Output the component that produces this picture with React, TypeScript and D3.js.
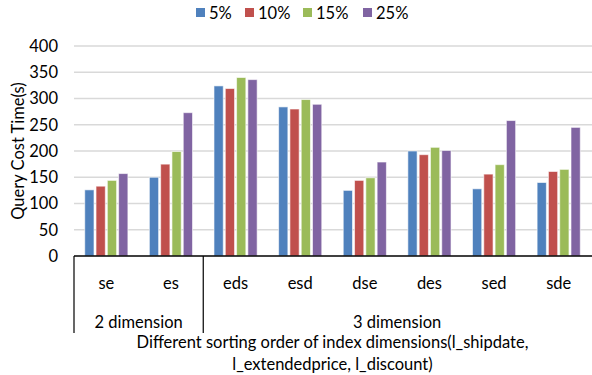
import React from "react";
import * as d3 from "d3";

const categories = ["se", "es", "eds", "esd", "dse", "des", "sed", "sde"];
const groups = [
  { label: "2 dimension", count: 2 },
  { label: "3 dimension", count: 6 },
];
const seriesNames = ["5%", "10%", "15%", "25%"];
const s5 = [126, 150, 324, 284, 125, 200, 128, 140];
const s10 = [133, 175, 319, 280, 144, 193, 156, 161];
const s15 = [144, 199, 340, 298, 149, 207, 174, 165];
const s25 = [157, 273, 336, 289, 179, 201, 258, 245];
const seriesValues = [s5, s10, s15, s25];
const colors = ["#4F81BD", "#C0504D", "#9BBB59", "#8064A2"];
const yTicks = [0, 50, 100, 150, 200, 250, 300, 350, 400];
const yTitle = "Query Cost Time(s)";
const xTitle1 = "Different sorting order of index dimensions(l_shipdate,";
const xTitle2 = "l_extendedprice, l_discount)";

const W = 592;
const H = 375;
const left = 74;
const right = 591;
const top = 46;
const bottom = 256;
const font = "Lato, 'Open Sans', sans-serif";
const fs = 16.5;

export default function App() {
  const x = d3.scaleBand<string>().domain(categories).range([left, right]).paddingInner(0).paddingOuter(0);
  const y = d3.scaleLinear().domain([0, 400]).range([bottom, top]);
  const inner = d3
    .scaleBand<string>()
    .domain(seriesNames)
    .range([0, x.bandwidth()])
    .paddingInner(0.18)
    .paddingOuter(0.95);

  let idx = 0;
  const groupBounds = groups.map((g) => {
    const start = x(categories[idx])!;
    idx += g.count;
    const end = idx < categories.length ? x(categories[idx])! : right;
    return { ...g, start, end };
  });

  const legendX = [196, 245, 303, 363];

  return (
    <svg width={W} height={H} style={{ position: "absolute", left: 0, top: 0, background: "#fff" }} fontFamily={font}>
      {yTicks.slice(1).map((t) => (
        <line key={t} x1={left} x2={W} y1={y(t)} y2={y(t)} stroke="#D9D9D9" strokeWidth={1.3} />
      ))}
      {yTicks.map((t) => (
        <text key={t} x={58} y={y(t)} dy="0.35em" textAnchor="end" fontSize={fs} fill="#000">
          {t}
        </text>
      ))}
      <text
        transform={`translate(18, ${(top + bottom) / 2}) rotate(-90)`}
        textAnchor="middle"
        dy="0.35em"
        fontSize={fs}
        fill="#000"
      >
        {yTitle}
      </text>
      {seriesValues.map((vals, si) =>
        vals.map((v, ci) => (
          <rect
            key={`${si}-${ci}`}
            x={x(categories[ci])! + inner(seriesNames[si])!}
            y={y(v)}
            width={inner.bandwidth()}
            height={bottom - y(v)}
            fill={colors[si]}
            stroke="#ffffff"
            strokeOpacity={0.6}
            strokeWidth={1}
          />
        ))
      )}
      <line x1={left} x2={W} y1={bottom} y2={bottom} stroke="#000" strokeWidth={1.5} />
      {groupBounds.map((g, i) => (
        <line key={i} x1={g.start} x2={g.start} y1={bottom} y2={333} stroke="#000" strokeWidth={1.2} />
      ))}
      {categories.map((c) => (
        <text key={c} x={x(c)! + x.bandwidth() / 2} y={283} dy="0.35em" textAnchor="middle" fontSize={fs} fill="#000">
          {c}
        </text>
      ))}
      {groupBounds.map((g, i) => (
        <text key={i} x={(g.start + g.end) / 2} y={322} dy="0.35em" textAnchor="middle" fontSize={fs} fill="#000">
          {g.label}
        </text>
      ))}
      <text x={(left + right) / 2} y={342} dy="0.35em" textAnchor="middle" fontSize={fs} fill="#000">
        {xTitle1}
      </text>
      <text x={(left + right) / 2} y={364} dy="0.35em" textAnchor="middle" fontSize={fs} fill="#000">
        {xTitle2}
      </text>
      {seriesNames.map((s, i) => (
        <g key={s}>
          <rect x={legendX[i]} y={8} width={9} height={9} fill={colors[i]} />
          <text x={legendX[i] + 13} y={13} dy="0.35em" fontSize={fs} fill="#000">
            {s}
          </text>
        </g>
      ))}
    </svg>
  );
}
